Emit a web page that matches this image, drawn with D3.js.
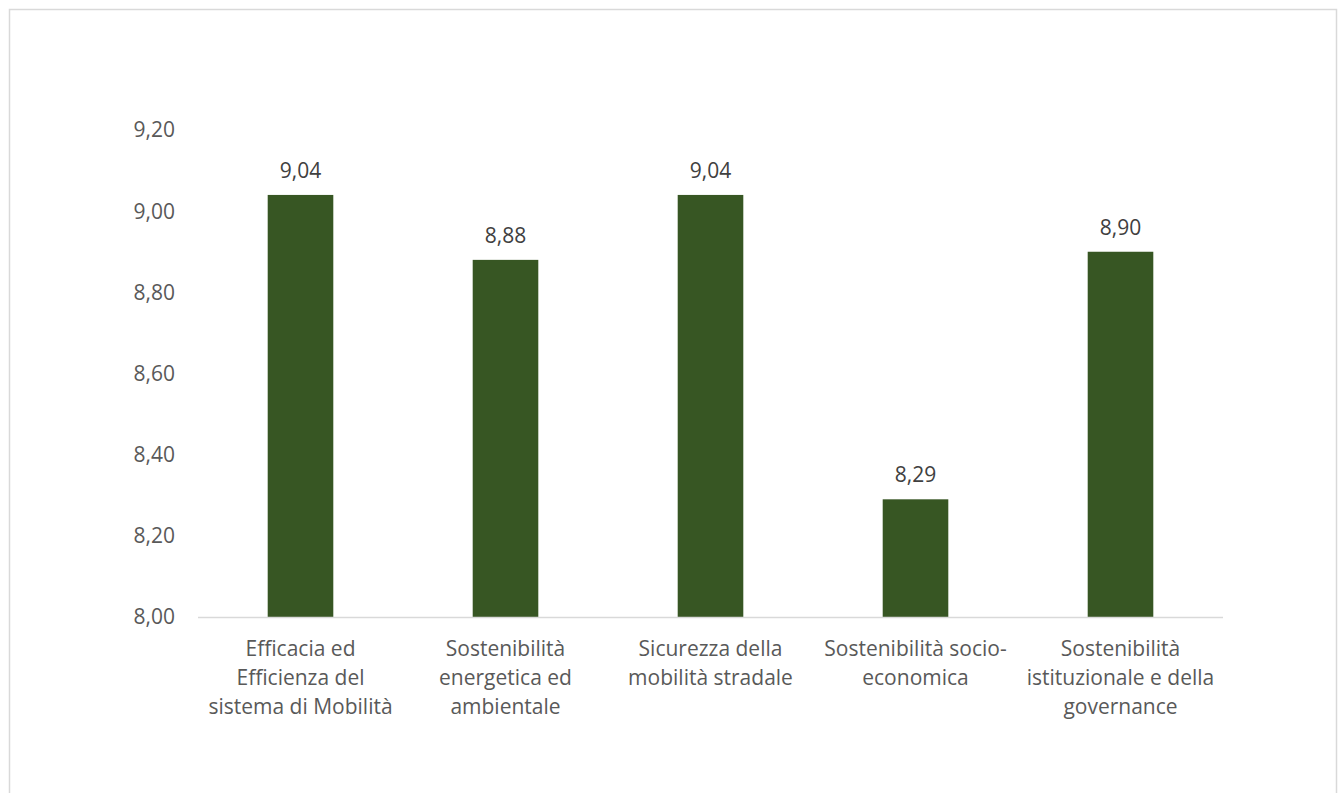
<!DOCTYPE html>
<html>
<head>
<meta charset="utf-8">
<script src="https://cdn.jsdelivr.net/npm/d3@7"></script>
<style>
    body { margin: 0; background: #fff; }
    svg { display: block; font-family: "Open Sans", "Liberation Sans", sans-serif; }
</style>
</head>
<body>
<svg name="chart" width="1338" height="793"></svg>
<script>
var categories = [
    ["Efficacia ed", "Efficienza del", "sistema di Mobilità"],
    ["Sostenibilità", "energetica ed", "ambientale"],
    ["Sicurezza della", "mobilità stradale"],
    ["Sostenibilità socio-", "economica"],
    ["Sostenibilità", "istituzionale e della", "governance"]
];
var values = [9.04, 8.88, 9.04, 8.29, 8.90];
var yTicks = [8.00, 8.20, 8.40, 8.60, 8.80, 9.00, 9.20];

var fmt = function (v) { return v.toFixed(2).replace(".", ","); };

var svg = d3.select("svg[name='chart']"),
    margin = { top: 130, right: 115, bottom: 176, left: 198 },
    width = +svg.attr("width") - margin.left - margin.right,
    height = +svg.attr("height") - margin.top - margin.bottom;

// outer frame
svg.append("rect")
    .attr("x", 9.5).attr("y", 9.5)
    .attr("width", 1327).attr("height", 800)
    .attr("fill", "none")
    .attr("stroke", "#d9d9d9")
    .attr("stroke-width", 1.5);

var x = d3.scaleBand().range([0, width]).domain(d3.range(values.length)).paddingInner(0.68).paddingOuter(0.34),
    y = d3.scaleLinear().range([height, 0]).domain([8.0, 9.2]);

var g = svg.append("g")
    .attr("transform", "translate(" + margin.left + "," + margin.top + ")");

// y labels
g.selectAll(".ytick")
    .data(yTicks)
    .enter().append("text")
    .attr("class", "ytick")
    .attr("x", -23)
    .attr("y", function (d) { return y(d); })
    .attr("dy", "0.35em")
    .attr("text-anchor", "end")
    .attr("fill", "#595959")
    .style("font-size", "21px")
    .text(fmt);

g.selectAll(".bar")
    .data(values)
    .enter().append("rect")
    .attr("class", "bar")
    .attr("x", function (d, i) { return x(i); })
    .attr("y", function (d) { return y(d); })
    .attr("width", x.bandwidth())
    .attr("height", function (d) { return height - y(d); })
    .attr("fill", "#375623");

// baseline
g.append("line")
    .attr("x1", 0).attr("x2", width)
    .attr("y1", height + 0.5).attr("y2", height + 0.5)
    .attr("stroke", "#d9d9d9")
    .attr("stroke-width", 1.5);

g.selectAll(".val")
    .data(values)
    .enter().append("text")
    .attr("class", "val")
    .attr("x", function (d, i) { return x(i) + x.bandwidth() / 2; })
    .attr("y", function (d) { return y(d) - 17; })
    .attr("text-anchor", "middle")
    .attr("fill", "#404040")
    .style("font-size", "21px")
    .text(fmt);

var labels = g.selectAll(".cat")
    .data(categories)
    .enter().append("text")
    .attr("class", "cat")
    .attr("text-anchor", "middle")
    .attr("fill", "#595959")
    .style("font-size", "21px")
    .attr("transform", function (d, i) {
        return "translate(" + (x(i) + x.bandwidth() / 2) + "," + (height + 39) + ")";
    });

labels.selectAll("tspan")
    .data(function (d) { return d; })
    .enter().append("tspan")
    .attr("x", 0)
    .attr("y", function (d, i) { return i * 29; })
    .text(function (d) { return d; });
</script>
</body>
</html>
